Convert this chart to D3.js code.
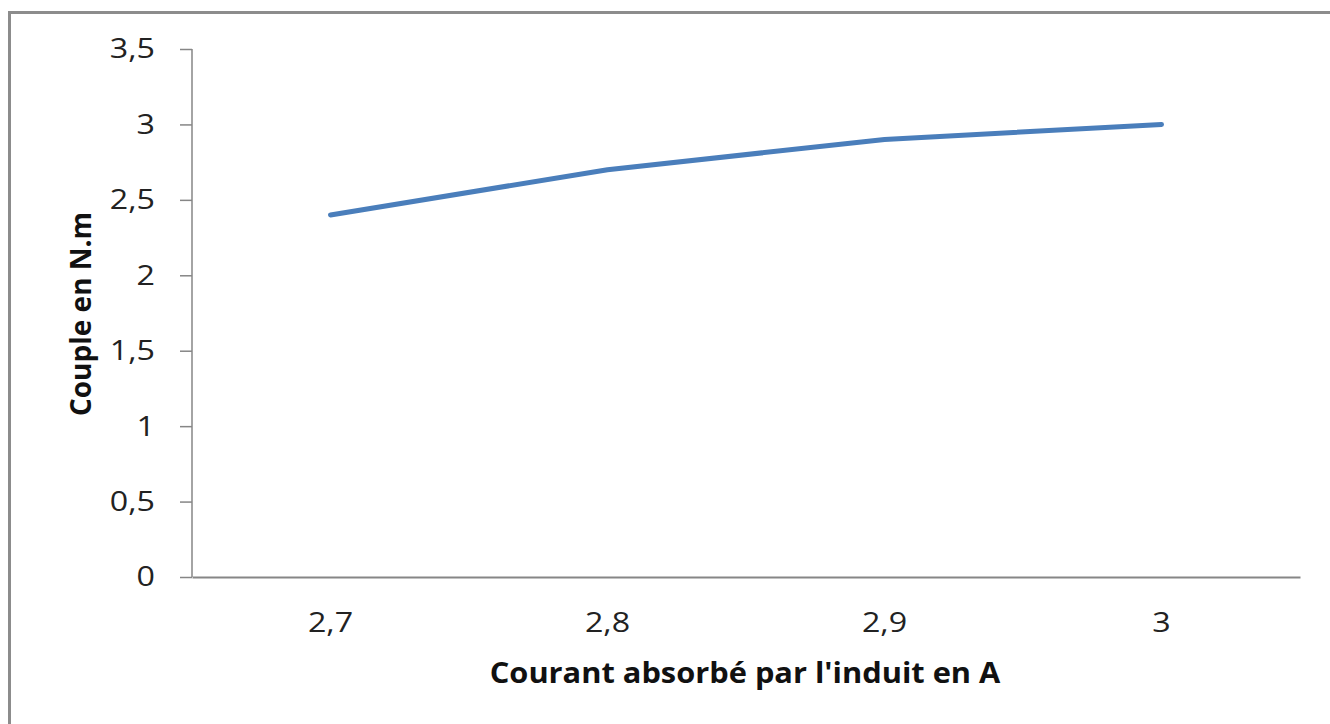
<!DOCTYPE html>
<html>
<head>
<meta charset="utf-8">
<script src="https://cdn.jsdelivr.net/npm/d3@7"></script>
<style>
  body { margin: 0; background: #fff; }
  svg { display: block; font-family: "Open Sans", "Noto Sans", sans-serif; }
</style>
</head>
<body>
<svg id="chart" width="1330" height="724"></svg>
<script>
// data
const courant = ["2,7", "2,8", "2,9", "3"];
const couple = [2.4, 2.7, 2.9, 3.0];
const yTicks = [0, 0.5, 1, 1.5, 2, 2.5, 3, 3.5];

const width = 1330, height = 724;
const margin = {top: 49, right: 30, bottom: 147, left: 192};
const stretch = 1.15; // the reference text looks a bit wide

const svg = d3.select("#chart");

// frame (only top + left edges are visible in the crop)
svg.append("rect")
    .attr("x", 9.5).attr("y", 12.5)
    .attr("width", 1400).attr("height", 800)
    .attr("fill", "none")
    .attr("stroke", "#8c8c8c")
    .attr("stroke-width", 3);

const x = d3.scaleBand()
    .domain(courant)
    .range([margin.left, width - margin.right]);

const y = d3.scaleLinear()
    .domain([0, 3.5])
    .range([height - margin.bottom, margin.top]);

const fmt = d => String(d).replace(".", ",");

// y axis
const yAxis = svg.append("g")
    .attr("transform", "translate(" + margin.left + ",0)")
    .call(d3.axisLeft(y).tickValues(yTicks).tickSize(12).tickPadding(25).tickFormat(fmt));
yAxis.selectAll("line, path").attr("stroke", "#868686").attr("stroke-width", 1.5);
yAxis.select(".domain").attr("d", "M0," + y(3.5) + "V" + y(0));
yAxis.selectAll("text")
    .attr("font-size", 28)
    .attr("font-family", "Open Sans, sans-serif")
    .attr("fill", "#222")
    .attr("x", 0)
    .attr("transform", "translate(-37,0) scale(" + stretch + ",1)");

// x axis
const xAxis = svg.append("g")
    .attr("transform", "translate(0," + y(0) + ")")
    .call(d3.axisBottom(x).tickSize(0).tickPadding(35));
xAxis.select(".domain").attr("stroke", "#868686").attr("stroke-width", 2);
xAxis.selectAll("text")
    .attr("font-size", 28)
    .attr("font-family", "Open Sans, sans-serif")
    .attr("fill", "#222")
    .attr("transform", "scale(" + stretch + ",1)");

// line
const line = d3.line()
    .x((d, i) => x(courant[i]) + x.bandwidth() / 2)
    .y(d => y(d));

svg.append("path")
    .datum(couple)
    .attr("d", line)
    .attr("fill", "none")
    .attr("stroke", "#4a7ebb")
    .attr("stroke-width", 5)
    .attr("stroke-linecap", "round")
    .attr("stroke-linejoin", "round");

// axis titles
svg.append("text")
    .attr("transform", "translate(745,683) scale(1.1,1)")
    .attr("text-anchor", "middle")
    .attr("font-size", 28)
    .attr("font-weight", "bold")
    .attr("fill", "#111")
    .text("Courant absorbé par l'induit en A");

svg.append("text")
    .attr("transform", "translate(91,314) rotate(-90)")
    .attr("text-anchor", "middle")
    .attr("font-size", 28)
    .attr("font-weight", "bold")
    .attr("fill", "#111")
    .text("Couple en N.m");
</script>
</body>
</html>
